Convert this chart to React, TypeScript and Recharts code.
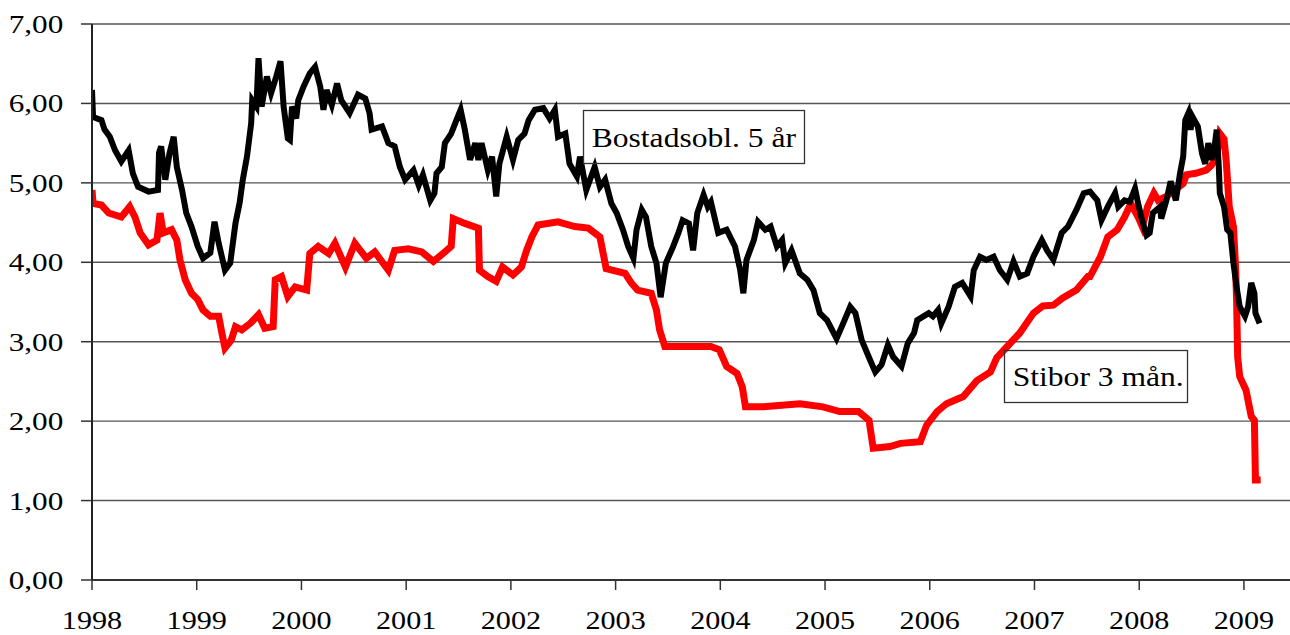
import React from "react";
import { LineChart, Line, XAxis, YAxis, CartesianGrid } from "recharts";

const bostadYears = [
  1998.0, 1998.01, 1998.09, 1998.12, 1998.17, 1998.22, 1998.28, 1998.35, 1998.39, 1998.44,
  1998.54, 1998.63, 1998.64, 1998.66, 1998.7, 1998.74, 1998.78, 1998.81, 1998.86, 1998.9,
  1998.95, 1999.01, 1999.06, 1999.13, 1999.17, 1999.21, 1999.27, 1999.32, 1999.37, 1999.41,
  1999.44, 1999.48, 1999.52, 1999.53, 1999.57, 1999.59, 1999.62, 1999.67, 1999.71, 1999.76,
  1999.8, 1999.83, 1999.87, 1999.89, 1999.91, 1999.95, 1999.97, 2000.02, 2000.08, 2000.13,
  2000.18, 2000.21, 2000.24, 2000.29, 2000.34, 2000.38, 2000.46, 2000.54, 2000.61, 2000.65,
  2000.67, 2000.77, 2000.83, 2000.89, 2000.94, 2000.99, 2001.07, 2001.12, 2001.16, 2001.23,
  2001.27, 2001.29, 2001.34, 2001.37, 2001.43, 2001.48, 2001.52, 2001.56, 2001.61, 2001.66,
  2001.69, 2001.72, 2001.78, 2001.82, 2001.86, 2001.89, 2001.96, 2002.02, 2002.07, 2002.13,
  2002.17, 2002.23, 2002.31, 2002.37, 2002.42, 2002.45, 2002.52, 2002.56, 2002.63, 2002.66,
  2002.72, 2002.8, 2002.85, 2002.9, 2002.96, 2003.01, 2003.07, 2003.12, 2003.17, 2003.2,
  2003.25, 2003.29, 2003.34, 2003.39, 2003.43, 2003.48, 2003.55, 2003.6, 2003.64, 2003.7,
  2003.74, 2003.78, 2003.84, 2003.88, 2003.91, 2003.98, 2004.06, 2004.14, 2004.19, 2004.22,
  2004.25, 2004.32, 2004.36, 2004.43, 2004.48, 2004.54, 2004.59, 2004.62, 2004.68, 2004.76,
  2004.83, 2004.89, 2004.95, 2005.02, 2005.11, 2005.16, 2005.24, 2005.29, 2005.35, 2005.43,
  2005.48, 2005.54, 2005.6, 2005.65, 2005.73, 2005.79, 2005.85, 2005.88, 2005.99, 2006.03,
  2006.08, 2006.11, 2006.18, 2006.24, 2006.31, 2006.39, 2006.42, 2006.48, 2006.54, 2006.61,
  2006.67, 2006.74, 2006.8, 2006.86, 2006.93, 2006.99, 2007.07, 2007.12, 2007.18, 2007.26,
  2007.32, 2007.4, 2007.47, 2007.53, 2007.6, 2007.64, 2007.7, 2007.77, 2007.8, 2007.86,
  2007.91, 2007.96, 2007.99, 2008.02, 2008.07, 2008.1, 2008.13, 2008.2, 2008.21, 2008.26,
  2008.3, 2008.35, 2008.39, 2008.42, 2008.44, 2008.47, 2008.49, 2008.51, 2008.56, 2008.6,
  2008.63, 2008.66, 2008.69, 2008.72, 2008.74, 2008.76, 2008.77, 2008.81, 2008.84, 2008.87,
  2008.9, 2008.93, 2008.96, 2009.01, 2009.04, 2009.07, 2009.1, 2009.11, 2009.15,
];
const bostadValues = [
  6.17, 5.83, 5.79, 5.67, 5.58, 5.41, 5.27, 5.41, 5.12, 4.95,
  4.89, 4.91, 5.38, 5.46, 5.04, 5.37, 5.58, 5.2, 4.91, 4.62,
  4.45, 4.2, 4.05, 4.12, 4.51, 4.24, 3.9, 3.99, 4.49, 4.75,
  5.04, 5.33, 5.75, 6.04, 5.96, 6.57, 5.96, 6.34, 6.13, 6.34,
  6.53, 5.96, 5.56, 5.54, 5.96, 5.81, 6.04, 6.21, 6.38, 6.46,
  6.21, 5.92, 6.17, 5.98, 6.25, 6.04, 5.88, 6.11, 6.06, 5.88,
  5.67, 5.71, 5.5, 5.46, 5.2, 5.04, 5.16, 4.97, 5.1, 4.78,
  4.87, 5.12, 5.2, 5.5, 5.62, 5.79, 5.92, 5.67, 5.29, 5.5,
  5.29, 5.5, 5.16, 5.33, 4.83, 5.24, 5.58, 5.29, 5.54, 5.62,
  5.79, 5.92, 5.94, 5.81, 5.92, 5.58, 5.62, 5.24, 5.08, 5.33,
  4.91, 5.2, 4.95, 5.04, 4.74, 4.62, 4.41, 4.2, 4.05, 4.41,
  4.66, 4.57, 4.2, 3.99, 3.56, 3.99, 4.2, 4.37, 4.53, 4.49,
  4.15, 4.62, 4.85, 4.7, 4.76, 4.37, 4.41, 4.2, 3.9, 3.61,
  4.03, 4.28, 4.51, 4.41, 4.45, 4.2, 4.28, 3.99, 4.15, 3.86,
  3.78, 3.65, 3.36, 3.27, 3.04, 3.19, 3.44, 3.36, 3.02, 2.77,
  2.62, 2.71, 2.96, 2.81, 2.69, 2.98, 3.11, 3.27, 3.36, 3.32,
  3.4, 3.23, 3.44, 3.69, 3.74, 3.57, 3.9, 4.07, 4.03, 4.07,
  3.9, 3.78, 4.01, 3.82, 3.86, 4.07, 4.28, 4.15, 4.03, 4.37,
  4.45, 4.66, 4.87, 4.89, 4.78, 4.53, 4.7, 4.87, 4.7, 4.78,
  4.76, 4.93, 4.74, 4.57, 4.34, 4.37, 4.62, 4.7, 4.55, 4.78,
  5.02, 4.78, 5.12, 5.33, 5.79, 5.88, 5.67, 5.83, 5.71, 5.37,
  5.24, 5.5, 5.29, 5.46, 5.67, 5.2, 4.87, 4.7, 4.41, 4.37,
  3.99, 3.69, 3.44, 3.32, 3.44, 3.74, 3.61, 3.36, 3.23,
];

const stiborYears = [
  1998.0, 1998.01, 1998.09, 1998.16, 1998.28, 1998.36, 1998.41, 1998.46, 1998.54, 1998.62,
  1998.65, 1998.68, 1998.76, 1998.81, 1998.84, 1998.89, 1998.95, 1999.01, 1999.06, 1999.13,
  1999.21, 1999.24, 1999.27, 1999.33, 1999.37, 1999.43, 1999.51, 1999.59, 1999.65, 1999.73,
  1999.75, 1999.81, 1999.87, 1999.94, 2000.05, 2000.08, 2000.16, 2000.26, 2000.32, 2000.42,
  2000.51, 2000.62, 2000.7, 2000.83, 2000.89, 2001.02, 2001.15, 2001.26, 2001.37, 2001.43,
  2001.45, 2001.56, 2001.69, 2001.7, 2001.78, 2001.86, 2001.92, 2002.02, 2002.1, 2002.15,
  2002.2, 2002.26, 2002.45, 2002.61, 2002.74, 2002.85, 2002.91, 2003.09, 2003.15, 2003.21,
  2003.34, 2003.39, 2003.42, 2003.47, 2003.57, 2003.8, 2003.91, 2003.99, 2004.06, 2004.16,
  2004.21, 2004.24, 2004.41, 2004.76, 2004.98, 2005.14, 2005.32, 2005.42, 2005.46, 2005.62,
  2005.72, 2005.91, 2005.97, 2006.07, 2006.16, 2006.32, 2006.45, 2006.58, 2006.64, 2006.74,
  2006.86, 2006.99, 2007.08, 2007.18, 2007.27, 2007.4, 2007.51, 2007.53, 2007.63, 2007.7,
  2007.79, 2007.86, 2007.92, 2007.99, 2008.03, 2008.08, 2008.14, 2008.18, 2008.26, 2008.34,
  2008.42, 2008.45, 2008.54, 2008.64, 2008.69, 2008.74, 2008.77, 2008.81, 2008.83, 2008.86,
  2008.9, 2008.92, 2008.93, 2008.94, 2008.96, 2009.02, 2009.07, 2009.1, 2009.11, 2009.16,
];
const stiborValues = [
  4.91, 4.74, 4.72, 4.62, 4.57, 4.7, 4.57, 4.37, 4.22, 4.28,
  4.62, 4.37, 4.41, 4.28, 4.03, 3.78, 3.61, 3.53, 3.4, 3.32,
  3.32, 3.11, 2.92, 3.02, 3.19, 3.15, 3.23, 3.34, 3.17, 3.19,
  3.78, 3.82, 3.57, 3.69, 3.65, 4.11, 4.2, 4.11, 4.24, 3.94,
  4.24, 4.05, 4.13, 3.9, 4.15, 4.17, 4.13, 4.01, 4.13, 4.2,
  4.55, 4.49, 4.43, 3.9, 3.82, 3.76, 3.94, 3.84, 3.94, 4.15,
  4.32, 4.47, 4.51, 4.45, 4.43, 4.32, 3.92, 3.86, 3.74, 3.65,
  3.61, 3.4, 3.15, 2.94, 2.94, 2.94, 2.94, 2.9, 2.69, 2.6,
  2.43, 2.18, 2.18, 2.22, 2.18, 2.12, 2.12, 2.01, 1.66, 1.68,
  1.72, 1.74, 1.95, 2.12, 2.22, 2.31, 2.51, 2.62, 2.8, 2.94,
  3.11, 3.36, 3.45, 3.46, 3.55, 3.65, 3.82, 3.82, 4.07, 4.32,
  4.41, 4.57, 4.74, 4.57, 4.45, 4.7, 4.87, 4.78, 4.83, 4.91,
  4.99, 5.1, 5.12, 5.16, 5.22, 5.33, 5.62, 5.55, 5.29, 4.7,
  4.45, 3.94, 3.53, 2.81, 2.56, 2.39, 2.06, 2.01, 1.26, 1.26,
];

const yearTicks = [1998, 1999, 2000, 2001, 2002, 2003, 2004, 2005, 2006, 2007, 2008, 2009];
const valueTicks = [0, 1, 2, 3, 4, 5, 6, 7];
const seriesNames = ["Bostadsobl. 5 år", "Stibor 3 mån."];

const bostadData = bostadYears.map((x, i) => ({ x, y: bostadValues[i] }));
const stiborData = stiborYears.map((x, i) => ({ x, y: stiborValues[i] }));

const FONT = "'Liberation Serif', 'Times New Roman', serif";

const fmt = (v: number) => v.toFixed(2).replace(".", ",");

const YTick = (props: any) => {
  const { x, y, payload } = props;
  return (
    <text
      transform={`translate(${x - 15.7},${y + 9}) scale(1.2,1)`}
      textAnchor="end"
      fontFamily={FONT}
      fontSize={26}
      fill="#000"
    >
      {fmt(payload.value)}
    </text>
  );
};

const XTick = (props: any) => {
  const { x, y, payload } = props;
  return (
    <text
      transform={`translate(${x},${y + 37}) scale(1.16,1)`}
      textAnchor="middle"
      fontFamily={FONT}
      fontSize={26}
      fill="#000"
    >
      {payload.value}
    </text>
  );
};

export default function App() {
  return (
    <div style={{ position: "absolute", left: 0, top: 0, width: 1290, height: 635, background: "#fff", overflow: "hidden" }}>
      <LineChart width={1290} height={635} margin={{ top: 24, right: 0, left: 0, bottom: 0 }}>
        <CartesianGrid vertical={false} stroke="#555" strokeWidth={1.4} />
        <XAxis
          type="number"
          dataKey="x"
          domain={[1998, 2009.44]}
          ticks={yearTicks}
          allowDataOverflow
          height={55}
          tickSize={10}
          tick={<XTick />}
          axisLine={{ stroke: "#333", strokeWidth: 2 }}
          tickLine={{ stroke: "#333", strokeWidth: 1.5 }}
        />
        <YAxis
          type="number"
          domain={[0, 7]}
          ticks={valueTicks}
          width={92}
          tickSize={11}
          tick={<YTick />}
          axisLine={{ stroke: "#222", strokeWidth: 2 }}
          tickLine={{ stroke: "#333", strokeWidth: 1.5 }}
        />
        <Line
          data={stiborData}
          dataKey="y"
          name={seriesNames[1]}
          type="linear"
          stroke="#ff0000"
          strokeWidth={7}
          dot={false}
          isAnimationActive={false}
        />
        <Line
          data={bostadData}
          dataKey="y"
          name={seriesNames[0]}
          type="linear"
          stroke="#000000"
          strokeWidth={6}
          dot={false}
          isAnimationActive={false}
        />
      </LineChart>
      <svg width={1290} height={635} style={{ position: "absolute", left: 0, top: 0, pointerEvents: "none" }}>
        <rect x={583.5} y={110.5} width={221} height={53} fill="none" stroke="#333" strokeWidth={1.3} />
        <text transform="translate(591.7,146.7) scale(1.17,1)" fontFamily={FONT} fontSize={27} fill="#000">
          {seriesNames[0]}
        </text>
        <rect x={1004.5} y={350.5} width={183} height={52} fill="none" stroke="#333" strokeWidth={1.3} />
        <text transform="translate(1012.7,386) scale(1.17,1)" fontFamily={FONT} fontSize={27} fill="#000">
          {seriesNames[1]}
        </text>
      </svg>
    </div>
  );
}
